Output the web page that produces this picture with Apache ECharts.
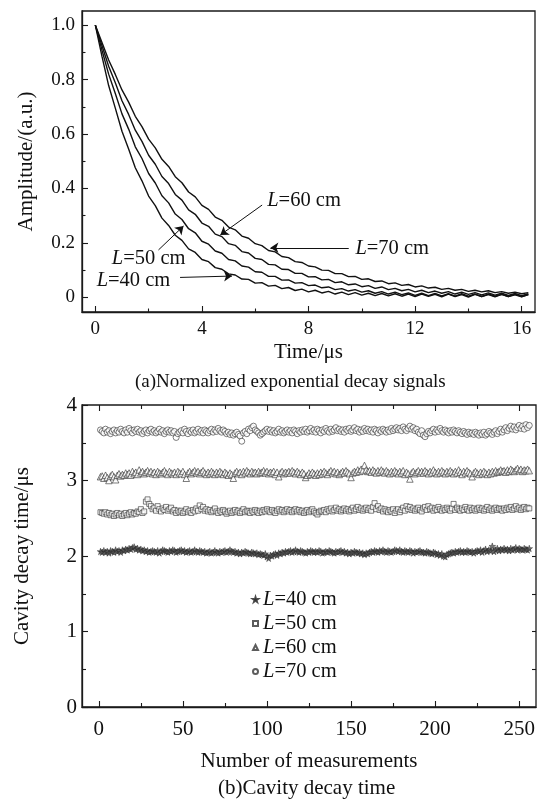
<!DOCTYPE html>
<html><head><meta charset="utf-8">
<script src="https://cdn.jsdelivr.net/npm/echarts@6/dist/echarts.min.js"></script>
<style>html,body{margin:0;padding:0;background:#fff}#c{width:550px;height:799px}</style>
</head><body><div id="c"></div>
<script>
// ---------- (a) normalized decay signals ----------
const timeUs = [0,0.25,0.5,0.75,1,1.25,1.5,1.75,2,2.25,2.5,2.75,3,3.25,3.5,3.75,4,4.25,4.5,4.75,5,5.25,5.5,5.75,6,6.25,6.5,6.75,7,7.25,7.5,7.75,8,8.25,8.5,8.75,9,9.25,9.5,9.75,10,10.25,10.5,10.75,11,11.25,11.5,11.75,12,12.25,12.5,12.75,13,13.25,13.5,13.75,14,14.25,14.5,14.75,15,15.25,15.5,15.75,16,16.25];
const ampL40 = [1.000,0.885,0.778,0.695,0.610,0.545,0.476,0.428,0.372,0.337,
0.291,0.264,0.228,0.209,0.178,0.165,0.139,0.131,0.109,0.103,
0.086,0.082,0.067,0.066,0.052,0.054,0.041,0.044,0.032,0.036,
0.025,0.030,0.020,0.026,0.016,0.022,0.012,0.019,0.010,0.017,
0.008,0.015,0.006,0.014,0.005,0.013,0.004,0.012,0.003,0.012,
0.004,0.011,0.002,0.012,0.003,0.010,0.001,0.011,0.003,0.010,
0.002,0.011,0.003,0.009,0.002,0.010];
const ampL50 = [1.000,0.908,0.820,0.749,0.674,0.618,0.553,0.510,0.455,0.420,
0.373,0.347,0.306,0.286,0.252,0.237,0.206,0.195,0.170,0.162,
0.139,0.134,0.115,0.111,0.094,0.092,0.077,0.077,0.063,0.064,
0.052,0.054,0.043,0.045,0.035,0.038,0.028,0.032,0.023,0.028,
0.019,0.024,0.015,0.021,0.012,0.019,0.010,0.016,0.007,0.015,
0.006,0.014,0.005,0.013,0.004,0.013,0.004,0.012,0.003,0.012,
0.004,0.011,0.003,0.012,0.003,0.010];
const ampL60 = [1.000,0.924,0.849,0.788,0.722,0.672,0.614,0.573,0.522,0.489,
0.444,0.418,0.378,0.357,0.321,0.305,0.273,0.261,0.232,0.223,
0.197,0.191,0.168,0.163,0.143,0.139,0.121,0.119,0.103,0.102,
0.088,0.088,0.075,0.076,0.064,0.066,0.054,0.057,0.046,0.049,
0.039,0.043,0.033,0.038,0.028,0.033,0.024,0.029,0.020,0.026,
0.017,0.023,0.015,0.021,0.012,0.019,0.011,0.017,0.009,0.016,
0.008,0.015,0.007,0.014,0.006,0.013];
const ampL70 = [1.000,0.936,0.872,0.819,0.762,0.717,0.665,0.627,0.581,0.549,
0.507,0.481,0.443,0.421,0.387,0.369,0.338,0.323,0.295,0.283,
0.258,0.248,0.225,0.217,0.197,0.190,0.172,0.167,0.150,0.146,
0.131,0.128,0.115,0.112,0.100,0.099,0.087,0.087,0.076,0.077,
0.066,0.068,0.058,0.060,0.050,0.053,0.044,0.047,0.038,0.042,
0.034,0.037,0.029,0.033,0.026,0.029,0.022,0.026,0.020,0.024,
0.017,0.021,0.015,0.019,0.013,0.017];

// ---------- (b) cavity decay time per measurement (index 1..256) ----------
const tauL40 = [
2.06,2.05,2.07,2.05,2.06,2.04,2.07,2.06,2.05,2.08,2.06,2.07,2.05,2.08,2.07,2.09,
2.08,2.10,2.09,2.11,2.12,2.09,2.10,2.08,2.09,2.07,2.08,2.06,2.07,2.05,2.06,2.07,
2.06,2.05,2.07,2.04,2.06,2.08,2.07,2.06,2.05,2.07,2.06,2.08,2.07,2.05,2.06,2.07,
2.08,2.06,2.07,2.05,2.06,2.07,2.05,2.06,2.08,2.06,2.05,2.07,2.06,2.05,2.06,2.04,
2.05,2.06,2.04,2.05,2.07,2.05,2.04,2.06,2.05,2.06,2.07,2.05,2.06,2.08,2.06,2.05,
2.06,2.04,2.05,2.03,2.05,2.04,2.06,2.05,2.04,2.03,2.05,2.04,2.03,2.04,2.02,2.03,
2.02,2.01,2.03,1.99,1.97,2.01,2.00,2.02,2.03,2.01,2.04,2.03,2.05,2.04,2.06,2.05,
2.06,2.07,2.05,2.06,2.08,2.06,2.05,2.07,2.06,2.05,2.04,2.06,2.05,2.07,2.06,2.05,
2.06,2.05,2.07,2.06,2.04,2.05,2.06,2.05,2.07,2.06,2.05,2.04,2.06,2.05,2.06,2.07,
2.05,2.06,2.04,2.05,2.03,2.05,2.04,2.06,2.05,2.04,2.05,2.03,2.04,2.02,2.04,2.03,
2.05,2.06,2.05,2.07,2.06,2.05,2.07,2.06,2.08,2.06,2.05,2.07,2.06,2.05,2.06,2.08,
2.07,2.06,2.08,2.06,2.05,2.07,2.06,2.05,2.07,2.06,2.04,2.06,2.05,2.06,2.07,2.05,
2.05,2.04,2.06,2.05,2.04,2.03,2.05,2.04,2.02,2.03,2.01,2.03,2.00,1.99,2.02,2.03,
2.04,2.05,2.04,2.06,2.05,2.06,2.07,2.05,2.06,2.05,2.07,2.06,2.05,2.06,2.04,2.06,
2.07,2.06,2.08,2.05,2.07,2.09,2.06,2.08,2.07,2.13,2.06,2.08,2.10,2.07,2.09,2.08,
2.10,2.08,2.09,2.07,2.10,2.08,2.09,2.11,2.08,2.10,2.09,2.08,2.10,2.09,2.08,2.10];
const tauL50 = [
2.58,2.57,2.56,2.58,2.55,2.57,2.54,2.56,2.53,2.55,2.57,2.54,2.56,2.53,2.55,2.57,
2.54,2.56,2.58,2.55,2.57,2.56,2.59,2.58,2.62,2.57,2.59,2.72,2.75,2.69,2.66,2.62,
2.64,2.60,2.66,2.62,2.59,2.63,2.61,2.65,2.60,2.62,2.64,2.59,2.61,2.57,2.60,2.58,
2.60,2.57,2.59,2.62,2.58,2.60,2.57,2.61,2.59,2.63,2.60,2.67,2.62,2.65,2.60,2.62,
2.59,2.61,2.58,2.60,2.63,2.59,2.57,2.60,2.58,2.61,2.59,2.56,2.58,2.60,2.57,2.59,
2.61,2.58,2.60,2.57,2.59,2.62,2.58,2.60,2.59,2.57,2.60,2.58,2.61,2.59,2.57,2.60,
2.58,2.61,2.59,2.62,2.60,2.58,2.61,2.59,2.57,2.60,2.62,2.59,2.61,2.58,2.60,2.62,
2.59,2.61,2.58,2.60,2.62,2.59,2.61,2.58,2.60,2.57,2.59,2.61,2.58,2.60,2.62,2.59,
2.57,2.55,2.58,2.60,2.59,2.61,2.58,2.62,2.60,2.63,2.59,2.61,2.64,2.60,2.62,2.59,
2.61,2.63,2.60,2.62,2.59,2.61,2.64,2.60,2.62,2.65,2.61,2.63,2.60,2.62,2.64,2.61,
2.63,2.60,2.65,2.70,2.62,2.66,2.61,2.63,2.59,2.62,2.60,2.58,2.61,2.59,2.62,2.57,
2.60,2.62,2.58,2.61,2.64,2.60,2.66,2.62,2.65,2.61,2.63,2.60,2.62,2.64,2.61,2.59,
2.63,2.65,2.61,2.66,2.62,2.64,2.60,2.63,2.61,2.65,2.62,2.60,2.63,2.61,2.64,2.62,
2.60,2.63,2.69,2.61,2.64,2.62,2.60,2.63,2.61,2.65,2.62,2.60,2.64,2.61,2.63,2.60,
2.62,2.64,2.61,2.63,2.60,2.62,2.65,2.61,2.63,2.60,2.62,2.64,2.61,2.63,2.62,2.60,
2.63,2.61,2.64,2.62,2.65,2.61,2.63,2.66,2.62,2.64,2.61,2.63,2.65,2.62,2.64,2.63];
const tauL60 = [
3.05,3.06,3.03,3.07,3.04,3.00,3.06,3.08,3.05,3.01,3.07,3.09,3.06,3.08,3.07,3.10,
3.08,3.10,3.07,3.12,3.09,3.11,3.08,3.14,3.10,3.12,3.09,3.11,3.13,3.10,3.12,3.09,
3.11,3.08,3.12,3.10,3.09,3.11,3.13,3.10,3.08,3.12,3.10,3.09,3.11,3.08,3.12,3.10,
3.09,3.12,3.08,3.03,3.10,3.12,3.09,3.11,3.13,3.10,3.12,3.09,3.11,3.13,3.10,3.08,
3.11,3.09,3.12,3.10,3.08,3.11,3.09,3.12,3.10,3.08,3.11,3.09,3.07,3.10,3.08,3.03,
3.10,3.12,3.09,3.11,3.08,3.12,3.10,3.13,3.11,3.09,3.12,3.10,3.11,3.09,3.12,3.10,
3.11,3.13,3.10,3.12,3.09,3.11,3.10,3.12,3.08,3.11,3.05,3.10,3.12,3.09,3.11,3.10,
3.12,3.10,3.13,3.11,3.09,3.12,3.10,3.08,3.11,3.09,3.04,3.07,3.10,3.08,3.11,3.09,
3.07,3.10,3.08,3.11,3.09,3.12,3.10,3.08,3.11,3.13,3.10,3.12,3.09,3.11,3.08,3.10,
3.12,3.10,3.13,3.11,3.09,3.04,3.10,3.12,3.11,3.14,3.12,3.15,3.13,3.20,3.14,3.12,
3.13,3.11,3.14,3.12,3.10,3.13,3.11,3.14,3.12,3.10,3.13,3.11,3.09,3.12,3.10,3.13,
3.11,3.09,3.12,3.10,3.13,3.08,3.11,3.09,3.02,3.10,3.12,3.09,3.11,3.13,3.10,3.12,
3.10,3.13,3.11,3.09,3.12,3.10,3.14,3.11,3.09,3.12,3.10,3.13,3.11,3.09,3.12,3.10,
3.13,3.11,3.09,3.12,3.10,3.14,3.11,3.08,3.12,3.10,3.13,3.11,3.09,3.05,3.10,3.12,
3.10,3.08,3.11,3.09,3.12,3.10,3.08,3.11,3.09,3.12,3.10,3.13,3.11,3.12,3.14,3.12,
3.13,3.11,3.14,3.12,3.15,3.13,3.12,3.14,3.16,3.13,3.15,3.12,3.14,3.13,3.15,3.13];
const tauL70 = [
3.67,3.65,3.63,3.68,3.64,3.66,3.62,3.65,3.67,3.63,3.66,3.64,3.68,3.65,3.63,3.67,
3.64,3.69,3.66,3.63,3.67,3.65,3.68,3.64,3.66,3.62,3.65,3.67,3.63,3.66,3.68,3.64,
3.66,3.63,3.65,3.68,3.64,3.66,3.62,3.65,3.67,3.64,3.66,3.63,3.65,3.57,3.62,3.64,
3.66,3.63,3.68,3.65,3.62,3.66,3.64,3.67,3.63,3.65,3.68,3.64,3.66,3.63,3.67,3.65,
3.63,3.66,3.68,3.64,3.67,3.65,3.69,3.66,3.64,3.67,3.65,3.62,3.64,3.61,3.63,3.60,
3.62,3.64,3.61,3.59,3.52,3.63,3.65,3.62,3.68,3.66,3.70,3.72,3.67,3.65,3.63,3.60,
3.62,3.64,3.66,3.68,3.65,3.67,3.64,3.66,3.63,3.65,3.68,3.64,3.66,3.63,3.65,3.67,
3.64,3.66,3.63,3.67,3.65,3.62,3.66,3.64,3.67,3.65,3.68,3.64,3.66,3.69,3.65,3.67,
3.64,3.68,3.66,3.63,3.67,3.65,3.69,3.66,3.64,3.68,3.65,3.67,3.70,3.66,3.68,3.65,
3.67,3.64,3.68,3.66,3.69,3.65,3.67,3.70,3.66,3.68,3.64,3.67,3.65,3.69,3.66,3.68,
3.65,3.67,3.64,3.68,3.66,3.63,3.67,3.65,3.68,3.66,3.64,3.67,3.65,3.69,3.66,3.68,
3.70,3.67,3.69,3.66,3.71,3.68,3.66,3.69,3.72,3.68,3.70,3.66,3.68,3.64,3.62,3.66,
3.60,3.58,3.62,3.65,3.63,3.66,3.68,3.64,3.67,3.65,3.69,3.66,3.64,3.67,3.65,3.63,
3.66,3.64,3.67,3.65,3.63,3.66,3.64,3.62,3.65,3.63,3.61,3.64,3.62,3.63,3.61,3.64,
3.62,3.60,3.63,3.61,3.64,3.60,3.62,3.65,3.63,3.61,3.64,3.66,3.62,3.65,3.68,3.64,
3.67,3.70,3.66,3.69,3.72,3.68,3.71,3.67,3.70,3.73,3.69,3.72,3.68,3.74,3.70,3.73];

const seriesNames = ['L=40 cm','L=50 cm','L=60 cm','L=70 cm'];
const timeTicks = [0,4,8,12,16];
const timeMinorTicks = [2,6,10,14];
const ampTicks = [0,0.2,0.4,0.6,0.8,1.0];
const ampTickLabels = ['0','0.2','0.4','0.6','0.8','1.0'];
const ampMinorTicks = [0.1,0.3,0.5,0.7,0.9];
const measTicks = [0,50,100,150,200,250];
const measMinorTicks = [25,75,125,175,225];
const tauTicks = [0,1,2,3,4];
const tauMinorTicks = [0.5,1.5,2.5,3.5];
const tauRightTicks = [0.5,1,1.5,2,2.5,3,3.5];

const F = '"Liberation Serif","Times New Roman",serif';
const INK = '#1a1a1a';
const TXT = '#111';

function axis(o) {
  const base = {
    type: 'value', splitLine: {show: false},
    axisLine: {show: false, onZero: false, lineStyle: {color: INK, width: 1.3}},
    axisTick: {show: false},
    axisLabel: {show: false},
    silent: true
  };
  return Object.assign(base, o);
}
function ticks(vals, len) {
  return {show: true, inside: true, length: len, customValues: vals, lineStyle: {color: INK, width: 1.1}};
}
const lineOn = {show: true, onZero: false, lineStyle: {color: INK, width: 1.3}};
const nameStyle = {fontSize: 21, fontFamily: F, color: TXT};

const starPath = 'path://M50,0 L61,35 L98,35 L68,57 L79,91 L50,70 L21,91 L32,57 L2,35 L39,35 Z';

const chart = echarts.init(document.getElementById('c'), null, {renderer: 'canvas'});

const option = {
  animation: false,
  backgroundColor: '#fff',
  title: [
    {text: '(a)Normalized exponential decay signals', left: 135, top: 373, padding: 0,
     textStyle: {fontSize: 19, fontWeight: 'normal', fontFamily: F, color: TXT}},
    {text: '(b)Cavity decay time', left: 218, top: 778, padding: 0,
     textStyle: {fontSize: 21, fontWeight: 'normal', fontFamily: F, color: TXT}}
  ],
  grid: [
    {left: 82, top: 11, width: 453, height: 301, show: true, borderColor: INK, borderWidth: 1.3, backgroundColor: 'transparent'},
    {left: 82, top: 405, width: 454, height: 302, show: true, borderColor: INK, borderWidth: 1.3, backgroundColor: 'transparent'}
  ],
  xAxis: [
    axis({gridIndex: 0, min: -0.5, max: 16.5, position: 'bottom', axisLine: lineOn,
      axisTick: ticks(timeTicks, 6),
      axisLabel: {show: true, customValues: timeTicks, fontSize: 19, fontFamily: F, color: TXT, margin: 8},
      name: 'Time/μs', nameLocation: 'middle', nameGap: 30, nameTextStyle: nameStyle}),
    axis({gridIndex: 0, min: -0.5, max: 16.5, position: 'bottom', axisTick: ticks(timeMinorTicks, 3.5)}),
    axis({gridIndex: 1, min: -10, max: 260, position: 'bottom', axisLine: lineOn,
      axisTick: ticks(measTicks, 6),
      axisLabel: {show: true, customValues: measTicks, fontSize: 21, fontFamily: F, color: TXT, margin: 12},
      name: 'Number of measurements', nameLocation: 'middle', nameGap: 44, nameTextStyle: nameStyle}),
    axis({gridIndex: 1, min: -10, max: 260, position: 'bottom', axisTick: ticks(measMinorTicks, 4)}),
    axis({gridIndex: 1, min: -10, max: 260, position: 'top', axisTick: ticks(measTicks, 6)}),
    axis({gridIndex: 1, min: -10, max: 260, position: 'top', axisTick: ticks(measMinorTicks, 4)})
  ],
  yAxis: [
    axis({gridIndex: 0, min: -0.054, max: 1.052, position: 'left', axisLine: lineOn,
      axisTick: ticks(ampTicks, 6),
      axisLabel: {show: true, customValues: ampTicks, fontSize: 19, fontFamily: F, color: TXT, margin: 7,
        formatter: v => ampTickLabels[ampTicks.findIndex(t => Math.abs(t - v) < 1e-6)] ?? ''},
      name: 'Amplitude/(a.u.)', nameLocation: 'middle', nameGap: 45, nameTextStyle: nameStyle}),
    axis({gridIndex: 0, min: -0.054, max: 1.052, position: 'left', axisTick: ticks(ampMinorTicks, 3.5)}),
    axis({gridIndex: 1, min: 0, max: 4, position: 'left', axisLine: lineOn,
      axisTick: ticks(tauTicks, 6),
      axisLabel: {show: true, customValues: tauTicks, fontSize: 21, fontFamily: F, color: TXT, margin: 5},
      name: 'Cavity decay time/μs', nameLocation: 'middle', nameGap: 49, nameTextStyle: nameStyle}),
    axis({gridIndex: 1, min: 0, max: 4, position: 'left', axisTick: ticks(tauMinorTicks, 4)}),
    axis({gridIndex: 1, min: 0, max: 4, position: 'right', axisTick: ticks(tauRightTicks, 4)})
  ],
  legend: {
    data: seriesNames, orient: 'vertical', left: 252, top: 589, padding: 0,
    itemWidth: 5, itemHeight: 5, itemGap: 3, selectedMode: false,
    formatter: n => '{i|L}' + n.slice(1),
    textStyle: {fontSize: 20.5, fontFamily: F, color: TXT, lineHeight: 20,
      rich: {i: {fontStyle: 'italic', fontSize: 20.5, fontFamily: F, color: TXT, lineHeight: 20}}}
  },
  series: []
};

const ampSets = [ampL40, ampL50, ampL60, ampL70];
ampSets.forEach((arr, k) => {
  const s = {
    type: 'line', name: 'a' + k, xAxisIndex: 0, yAxisIndex: 0,
    data: timeUs.map((t, i) => [t, arr[i]]),
    showSymbol: false, symbol: 'none', silent: true, clip: true,
    lineStyle: {color: '#111', width: 1.4}
  };
  if (k === 0) {
    s.markLine = {
      silent: true, symbol: ['none', 'arrow'], symbolSize: 8, animation: false,
      lineStyle: {color: '#111', width: 1, type: 'solid'}, label: {show: false},
      emphasis: {disabled: true},
      data: [
        [{coord: [6.26, 0.339]}, {coord: [4.69, 0.229]}],
        [{coord: [9.51, 0.182]}, {coord: [6.57, 0.182]}],
        [{coord: [2.37, 0.174]}, {coord: [3.31, 0.262]}],
        [{coord: [3.18, 0.073]}, {coord: [5.13, 0.078]}]
      ]
    };
  }
  option.series.push(s);
});

const tauSets = [tauL40, tauL50, tauL60, tauL70];
const symStyles = [
  {symbol: starPath, size: 6.5, item: {color: '#555', borderColor: '#222', borderWidth: 0.6}},
  {symbol: 'rect', size: 5, item: {color: '#fff', borderColor: '#333', borderWidth: 0.8}},
  {symbol: 'triangle', size: 6.5, item: {color: '#fff', borderColor: '#333', borderWidth: 0.8}},
  {symbol: 'circle', size: 6, item: {color: '#fff', borderColor: '#333', borderWidth: 0.8}}
];
tauSets.forEach((arr, k) => {
  option.series.push({
    type: 'scatter', name: seriesNames[k], xAxisIndex: 2, yAxisIndex: 2,
    data: arr.map((v, i) => [i + 1, v]),
    symbol: symStyles[k].symbol, symbolSize: symStyles[k].size,
    itemStyle: symStyles[k].item, silent: true
  });
});

chart.setOption(option);

// curve labels in panel (a), anchored in data coordinates
const annos = [
  {t: 6.45, v: 0.357, rest: '=60 cm'},
  {t: 9.76, v: 0.180, rest: '=70 cm'},
  {t: 0.62, v: 0.141, rest: '=50 cm'},
  {t: 0.05, v: 0.063, rest: '=40 cm'}
];
chart.setOption({
  graphic: annos.map(a => {
    const p = chart.convertToPixel({gridIndex: 0}, [a.t, a.v]);
    return {
      type: 'text', x: p[0], y: p[1], silent: true,
      style: {
        text: '{i|L}{n|' + a.rest + '}', fontSize: 20.5, fontFamily: F, fill: TXT,
        align: 'left', verticalAlign: 'middle',
        rich: {
          i: {fontStyle: 'italic', fontSize: 20.5, fontFamily: F, fill: TXT},
          n: {fontSize: 20.5, fontFamily: F, fill: TXT}
        }
      }
    };
  })
});
</script>
</body></html>
